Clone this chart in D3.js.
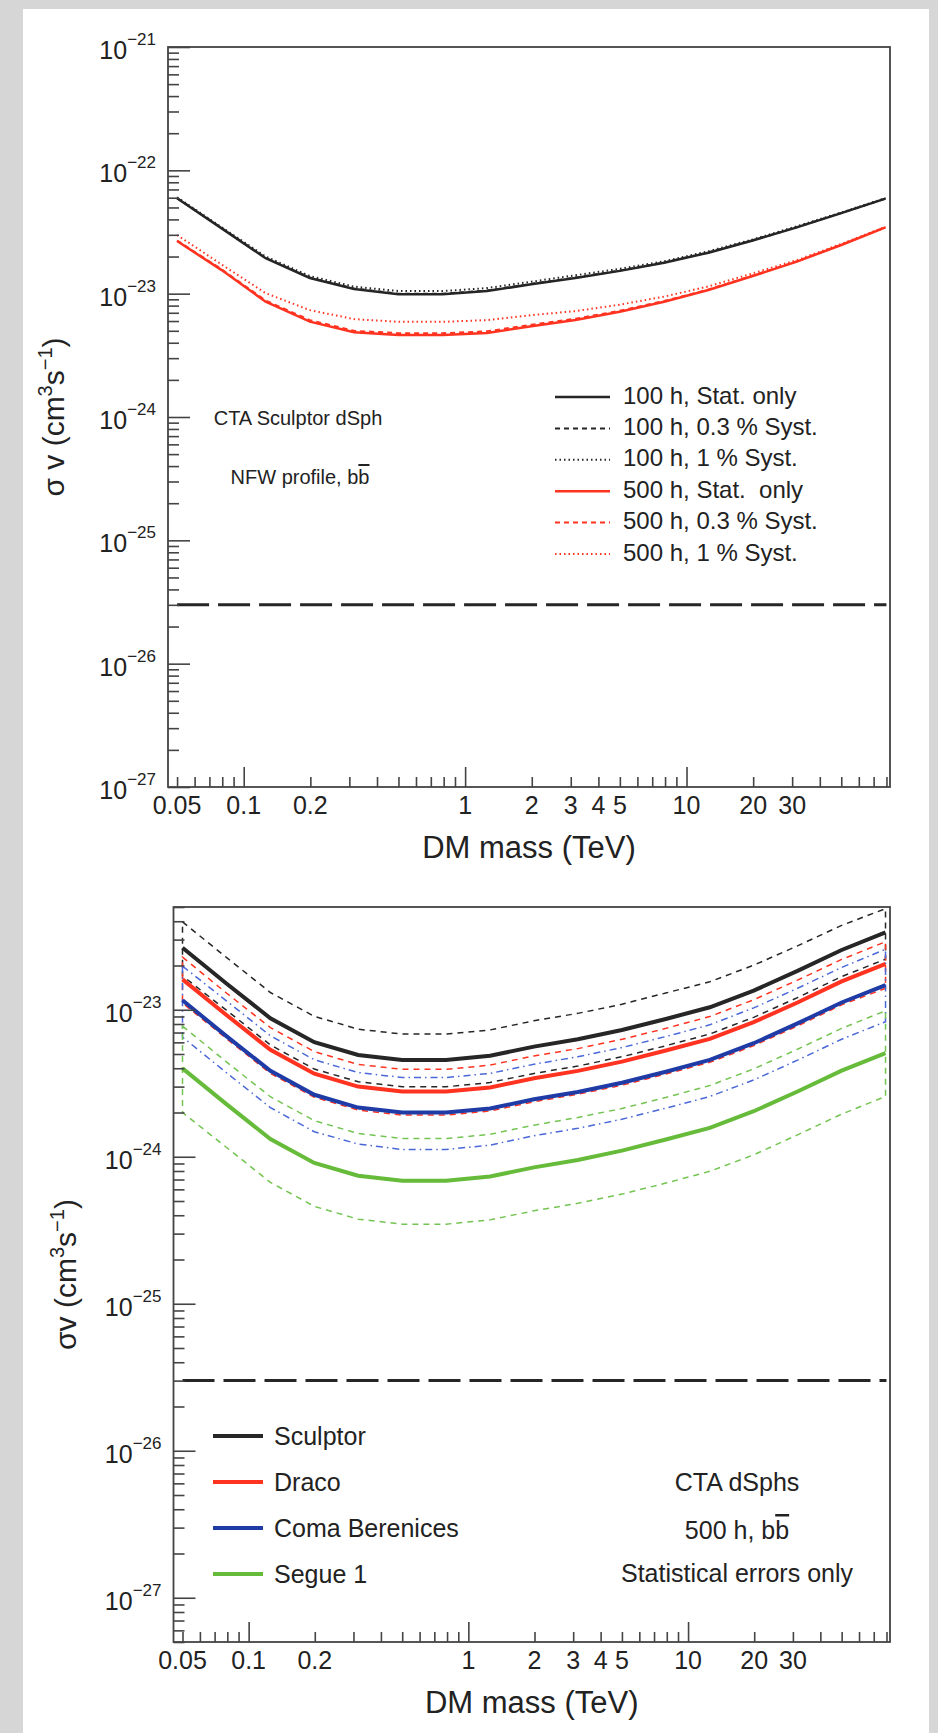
<!DOCTYPE html>
<html>
<head>
<meta charset="utf-8">
<script src="https://cdn.jsdelivr.net/npm/d3@7"></script>
<style>
  body { margin: 0; background: #d6d6d6; }
  text { font-family: "Liberation Sans", Arial, Helvetica, sans-serif; fill: #222; }
</style>
</head>
<body>
<div id="container"></div>
<script>
// DM masses (TeV) at which the limits were computed
const massGrid = [0.05, 0.0792, 0.1256, 0.199, 0.315, 0.5, 0.792, 1.256, 1.99, 3.15, 5, 7.92, 12.56, 19.9, 31.5, 50, 79.2];

// top panel: Sculptor, 100 h / 500 h with systematics
const scl100Stat   = [5.93e-23, 3.40e-23, 1.94e-23, 1.34e-23, 1.09e-23, 9.9e-24, 9.9e-24, 1.05e-23, 1.19e-23, 1.34e-23, 1.53e-23, 1.78e-23, 2.15e-23, 2.70e-23, 3.45e-23, 4.50e-23, 5.90e-23];
const scl100Syst03 = [5.95e-23, 3.42e-23, 1.95e-23, 1.35e-23, 1.10e-23, 1.00e-23, 1.00e-23, 1.06e-23, 1.20e-23, 1.35e-23, 1.54e-23, 1.79e-23, 2.16e-23, 2.71e-23, 3.46e-23, 4.51e-23, 5.91e-23];
const scl100Syst1  = [6.05e-23, 3.47e-23, 2.00e-23, 1.39e-23, 1.14e-23, 1.05e-23, 1.05e-23, 1.11e-23, 1.25e-23, 1.41e-23, 1.59e-23, 1.83e-23, 2.21e-23, 2.75e-23, 3.52e-23, 4.55e-23, 5.96e-23];
const scl500Stat   = [2.67e-23, 1.56e-23, 8.6e-24, 5.93e-24, 4.86e-24, 4.62e-24, 4.62e-24, 4.8e-24, 5.45e-24, 6.12e-24, 7.14e-24, 8.61e-24, 1.07e-23, 1.39e-23, 1.82e-23, 2.48e-23, 3.45e-23];
const scl500Syst03 = [2.70e-23, 1.58e-23, 8.8e-24, 6.1e-24, 5.0e-24, 4.78e-24, 4.78e-24, 4.95e-24, 5.6e-24, 6.26e-24, 7.27e-24, 8.72e-24, 1.08e-23, 1.40e-23, 1.83e-23, 2.49e-23, 3.46e-23];
const scl500Syst1  = [2.99e-23, 1.73e-23, 1.01e-23, 7.35e-24, 6.22e-24, 5.91e-24, 5.91e-24, 6.10e-24, 6.70e-24, 7.22e-24, 8.14e-24, 9.47e-24, 1.145e-23, 1.46e-23, 1.87e-23, 2.53e-23, 3.48e-23];

// bottom panel: four dSphs, 500 h, stat only, with J-factor bands
const sculptorStat = [2.64e-23, 1.51e-23, 8.75e-24, 6.01e-24, 4.92e-24, 4.55e-24, 4.55e-24, 4.86e-24, 5.61e-24, 6.30e-24, 7.28e-24, 8.65e-24, 1.04e-23, 1.35e-23, 1.84e-23, 2.55e-23, 3.36e-23];
const sculptorUp   = [3.96e-23, 2.27e-23, 1.31e-23, 9.02e-24, 7.38e-24, 6.83e-24, 6.83e-24, 7.29e-24, 8.42e-24, 9.45e-24, 1.09e-23, 1.30e-23, 1.55e-23, 2.01e-23, 2.72e-23, 3.75e-23, 4.87e-23];
const sculptorLow  = [1.70e-23, 9.93e-24, 5.76e-24, 3.95e-24, 3.24e-24, 2.99e-24, 2.99e-24, 3.20e-24, 3.69e-24, 4.14e-24, 4.79e-24, 5.69e-24, 6.84e-24, 8.88e-24, 1.21e-23, 1.68e-23, 2.21e-23];
const dracoStat    = [1.61e-23, 9.21e-24, 5.34e-24, 3.67e-24, 3.00e-24, 2.78e-24, 2.78e-24, 2.96e-24, 3.42e-24, 3.84e-24, 4.44e-24, 5.28e-24, 6.34e-24, 8.24e-24, 1.12e-23, 1.56e-23, 2.05e-23];
const dracoUp      = [2.28e-23, 1.30e-23, 7.56e-24, 5.19e-24, 4.25e-24, 3.93e-24, 3.93e-24, 4.20e-24, 4.85e-24, 5.44e-24, 6.29e-24, 7.47e-24, 8.99e-24, 1.17e-23, 1.59e-23, 2.20e-23, 2.90e-23];
const dracoLow     = [1.11e-23, 6.37e-24, 3.69e-24, 2.54e-24, 2.08e-24, 1.92e-24, 1.92e-24, 2.05e-24, 2.37e-24, 2.66e-24, 3.07e-24, 3.65e-24, 4.39e-24, 5.70e-24, 7.76e-24, 1.08e-23, 1.40e-23];
const comaStat     = [1.16e-23, 6.62e-24, 3.84e-24, 2.64e-24, 2.16e-24, 2.00e-24, 2.00e-24, 2.13e-24, 2.46e-24, 2.76e-24, 3.19e-24, 3.79e-24, 4.56e-24, 5.92e-24, 8.07e-24, 1.12e-23, 1.47e-23];
const comaUp       = [1.98e-23, 1.15e-23, 6.65e-24, 4.57e-24, 3.74e-24, 3.46e-24, 3.46e-24, 3.69e-24, 4.26e-24, 4.79e-24, 5.53e-24, 6.57e-24, 7.90e-24, 1.03e-23, 1.40e-23, 1.94e-23, 2.58e-23];
const comaLow      = [6.52e-24, 3.73e-24, 2.16e-24, 1.48e-24, 1.22e-24, 1.12e-24, 1.12e-24, 1.20e-24, 1.39e-24, 1.56e-24, 1.80e-24, 2.14e-24, 2.57e-24, 3.33e-24, 4.54e-24, 6.30e-24, 8.30e-24];
const segueStat    = [3.99e-24, 2.28e-24, 1.32e-24, 9.08e-25, 7.43e-25, 6.87e-25, 6.87e-25, 7.34e-25, 8.47e-25, 9.51e-25, 1.10e-24, 1.31e-24, 1.57e-24, 2.04e-24, 2.78e-24, 3.85e-24, 5.07e-24];
const segueUp      = [7.74e-24, 4.42e-24, 2.56e-24, 1.76e-24, 1.44e-24, 1.33e-24, 1.33e-24, 1.42e-24, 1.64e-24, 1.85e-24, 2.13e-24, 2.53e-24, 3.05e-24, 3.96e-24, 5.39e-24, 7.47e-24, 9.84e-24];
const segueLow     = [2.00e-24, 1.16e-24, 6.69e-25, 4.60e-25, 3.76e-25, 3.48e-25, 3.48e-25, 3.72e-25, 4.29e-25, 4.82e-25, 5.57e-25, 6.62e-25, 7.96e-25, 1.03e-24, 1.41e-24, 1.95e-24, 2.57e-24];

// thermal relic cross section
const thermalMass = [0.05, 80];
const thermalXsec = [3e-26, 3e-26];

// axes
const xDomain = [0.0455, 83];
const xMajorTicks = [0.1, 1, 10];
const xMinorTicks = [0.05, 0.06, 0.07, 0.08, 0.09, 0.2, 0.3, 0.4, 0.5, 0.6, 0.7, 0.8, 0.9,
                     2, 3, 4, 5, 6, 7, 8, 9, 20, 30, 40, 50, 60, 70, 80];
const xTickLabels = [0.05, 0.1, 0.2, 1, 2, 3, 4, 5, 10, 20, 30];
const topYExponents = [-27, -26, -25, -24, -23, -22, -21];
const bottomYExponents = [-27, -26, -25, -24, -23];

const topLegendLabels = ["100 h, Stat. only", "100 h, 0.3 % Syst.", "100 h, 1 % Syst.",
                         "500 h, Stat.  only", "500 h, 0.3 % Syst.", "500 h, 1 % Syst."];
const bottomLegendLabels = ["Sculptor", "Draco", "Coma Berenices", "Segue 1"];

const BLACK = "#262626", RED = "#ff3320", BLUE = "#1f3ca6", BLUE_L = "#4a68d8",
      GREEN = "#66bb3a", GREEN_L = "#74c452";

const svg = d3.select("#container").append("svg")
    .attr("width", 938)
    .attr("height", 1733);

svg.append("rect").attr("width", 938).attr("height", 1733).attr("fill", "#d6d6d6");
svg.append("rect").attr("x", 23).attr("y", 9).attr("width", 906).attr("height", 1724).attr("fill", "#fff");

function makePanel(opt) {
    const x = d3.scaleLog().domain(xDomain).range([opt.left, opt.right]);
    const y = d3.scaleLog().domain(opt.yDomain).range([opt.bottom, opt.top]);
    const g = svg.append("g");

    g.append("clipPath").attr("id", opt.id + "-clip")
        .append("rect")
        .attr("x", opt.left).attr("y", opt.top)
        .attr("width", opt.right - opt.left).attr("height", opt.bottom - opt.top);

    const plot = g.append("g").attr("clip-path", "url(#" + opt.id + "-clip)");

    // minor y ticks 2..9 x 10^n inside the domain
    const yMinor = [];
    for (let e = -28; e <= -21; e++) {
        for (let k = 2; k <= 9; k++) {
            const v = k * Math.pow(10, e);
            if (v >= opt.yDomain[0] * 0.999 && v <= opt.yDomain[1] * 1.001) yMinor.push(v);
        }
    }
    const yMajor = opt.yExponents.map(e => Math.pow(10, e));

    const axes = g.append("g").attr("stroke-width", 1.6);
    axes.append("g").attr("transform", "translate(0," + opt.bottom + ")")
        .call(d3.axisBottom(x).tickValues(xMinorTicks).tickSize(-10).tickFormat(""));
    axes.append("g").attr("transform", "translate(0," + opt.bottom + ")")
        .call(d3.axisBottom(x).tickValues(xMajorTicks).tickSize(-20).tickFormat(""));
    axes.append("g").attr("transform", "translate(" + opt.left + ",0)")
        .call(d3.axisLeft(y).tickValues(yMinor).tickSize(-11).tickFormat(""));
    axes.append("g").attr("transform", "translate(" + opt.left + ",0)")
        .call(d3.axisLeft(y).tickValues(yMajor).tickSize(-22).tickFormat(""));
    axes.selectAll(".domain").remove();
    axes.selectAll(".tick line").attr("stroke", "#444");

    g.append("rect")
        .attr("x", opt.left).attr("y", opt.top)
        .attr("width", opt.right - opt.left).attr("height", opt.bottom - opt.top)
        .attr("fill", "none").attr("stroke", "#444").attr("stroke-width", 1.8);

    // x tick labels
    g.selectAll(".xlab").data(xTickLabels).enter().append("text")
        .attr("x", d => x(d))
        .attr("y", opt.bottom + 27)
        .attr("text-anchor", "middle")
        .style("font-size", "25px")
        .text(d => String(d));

    // y tick labels 10^n
    const ylab = g.selectAll(".ylab").data(opt.yExponents).enter().append("text")
        .attr("x", opt.left - 12)
        .attr("y", d => y(Math.pow(10, d)) + 12)
        .attr("text-anchor", "end")
        .style("font-size", "25px");
    ylab.append("tspan").text("10");
    ylab.append("tspan").attr("dy", -14).style("font-size", "17px").text(d => "\u2212" + Math.abs(d));

    // axis titles
    g.append("text")
        .attr("x", (opt.left + opt.right) / 2)
        .attr("y", opt.bottom + 71)
        .attr("text-anchor", "middle")
        .style("font-size", "31px")
        .text("DM mass (TeV)");

    const yt = g.append("text")
        .attr("transform", "translate(" + opt.yTitleX + "," + ((opt.top + opt.bottom) / 2) + ")rotate(-90)")
        .attr("text-anchor", "middle")
        .style("font-size", "30px")
        .style("white-space", "pre");
    yt.append("tspan").text(opt.yTitle + " (cm");
    yt.append("tspan").attr("dy", -12).style("font-size", "20px").text("3");
    yt.append("tspan").attr("dy", 12).text("s");
    yt.append("tspan").attr("dy", -12).style("font-size", "20px").text("\u22121");
    yt.append("tspan").attr("dy", 12).text(")");

    return { x, y, g, plot };
}

function drawLine(p, values, color, width, dash) {
    p.plot.append("path")
        .datum(d3.zip(massGrid, values))
        .attr("fill", "none")
        .attr("stroke", color)
        .attr("stroke-width", width)
        .attr("stroke-dasharray", dash)
        .attr("d", d3.line().x(d => p.x(d[0])).y(d => p.y(d[1])));
}

function drawBand(p, upper, lower, color, dash) {
    const pts = d3.zip(massGrid, upper).concat(d3.zip(massGrid, lower).reverse());
    p.plot.append("path")
        .datum(pts)
        .attr("fill", "none")
        .attr("stroke", color)
        .attr("stroke-width", 1.5)
        .attr("stroke-dasharray", dash)
        .attr("d", d => d3.line().x(q => p.x(q[0])).y(q => p.y(q[1]))(d) + "Z");
}

function drawThermal(p) {
    p.plot.append("path")
        .datum(d3.zip(thermalMass, thermalXsec))
        .attr("fill", "none")
        .attr("stroke", BLACK)
        .attr("stroke-width", 3)
        .attr("stroke-dasharray", "32,9")
        .attr("d", d3.line().x(d => p.x(d[0])).y(d => p.y(d[1])));
}

// ---------- top panel ----------
const topPanel = makePanel({
    id: "toppanel", left: 168, right: 890, top: 47, bottom: 787,
    yDomain: [1e-27, 1e-21], yExponents: topYExponents,
    yTitle: "\u03c3 v", yTitleX: 64
});

drawThermal(topPanel);
drawLine(topPanel, scl100Stat, BLACK, 2.5, null);
drawLine(topPanel, scl500Stat, RED, 2.5, null);
drawLine(topPanel, scl100Syst03, BLACK, 2, "5,4");
drawLine(topPanel, scl500Syst03, RED, 2, "5,4");
drawLine(topPanel, scl100Syst1, BLACK, 2, "1.5,3");
drawLine(topPanel, scl500Syst1, RED, 2, "1.5,3");

const topLegendStyle = [
    [BLACK, 2.5, null], [BLACK, 2, "5,4"], [BLACK, 2, "1.5,3"],
    [RED, 2.5, null], [RED, 2, "5,4"], [RED, 2, "1.5,3"]
];
const tl = topPanel.g.selectAll(".tleg").data(topLegendLabels).enter().append("g")
    .attr("transform", (d, i) => "translate(0," + (395 + i * 31.4) + ")");
tl.append("line")
    .attr("x1", 555).attr("x2", 610).attr("y1", 2).attr("y2", 2)
    .attr("stroke", (d, i) => topLegendStyle[i][0])
    .attr("stroke-width", (d, i) => topLegendStyle[i][1])
    .attr("stroke-dasharray", (d, i) => topLegendStyle[i][2]);
tl.append("text")
    .attr("x", 623).attr("y", 8.5)
    .style("font-size", "24px")
    .style("white-space", "pre")
    .text(d => d);

topPanel.g.append("text")
    .attr("x", 298).attr("y", 425)
    .attr("text-anchor", "middle")
    .style("font-size", "20px")
    .text("CTA Sculptor dSph");
const nfw = topPanel.g.append("text")
    .attr("x", 300).attr("y", 484)
    .attr("text-anchor", "middle")
    .style("font-size", "20px");
nfw.append("tspan").text("NFW profile, b");
nfw.append("tspan").style("text-decoration", "overline").text("b");

// ---------- bottom panel ----------
const botPanel = makePanel({
    id: "botpanel", left: 173.5, right: 890, top: 907, bottom: 1642,
    yDomain: [5e-28, 5e-23], yExponents: bottomYExponents,
    yTitle: "\u03c3v", yTitleX: 76
});

drawThermal(botPanel);
drawBand(botPanel, sculptorUp, sculptorLow, BLACK, "6,5");
drawBand(botPanel, dracoUp, dracoLow, RED, "6,5");
drawBand(botPanel, comaUp, comaLow, BLUE_L, "7,4,1.5,4");
drawBand(botPanel, segueUp, segueLow, GREEN_L, "6,5");
drawLine(botPanel, segueStat, GREEN, 4, null);
drawLine(botPanel, comaStat, BLUE, 4, null);
drawLine(botPanel, dracoStat, RED, 4, null);
drawLine(botPanel, sculptorStat, BLACK, 4, null);

const bottomLegendColors = [BLACK, RED, BLUE, GREEN];
const bl = botPanel.g.selectAll(".bleg").data(bottomLegendLabels).enter().append("g")
    .attr("transform", (d, i) => "translate(0," + (1436 + i * 46) + ")");
bl.append("line")
    .attr("x1", 213).attr("x2", 263).attr("y1", 0).attr("y2", 0)
    .attr("stroke", (d, i) => bottomLegendColors[i])
    .attr("stroke-width", 4);
bl.append("text")
    .attr("x", 274).attr("y", 9)
    .style("font-size", "25px")
    .text(d => d);

botPanel.g.append("text")
    .attr("x", 737).attr("y", 1491)
    .attr("text-anchor", "middle")
    .style("font-size", "25px")
    .text("CTA dSphs");
const hrs = botPanel.g.append("text")
    .attr("x", 737).attr("y", 1539)
    .attr("text-anchor", "middle")
    .style("font-size", "25px");
hrs.append("tspan").text("500 h, b");
hrs.append("tspan").style("text-decoration", "overline").text("b");
botPanel.g.append("text")
    .attr("x", 737).attr("y", 1582)
    .attr("text-anchor", "middle")
    .style("font-size", "25px")
    .text("Statistical errors only");
</script>
</body>
</html>
